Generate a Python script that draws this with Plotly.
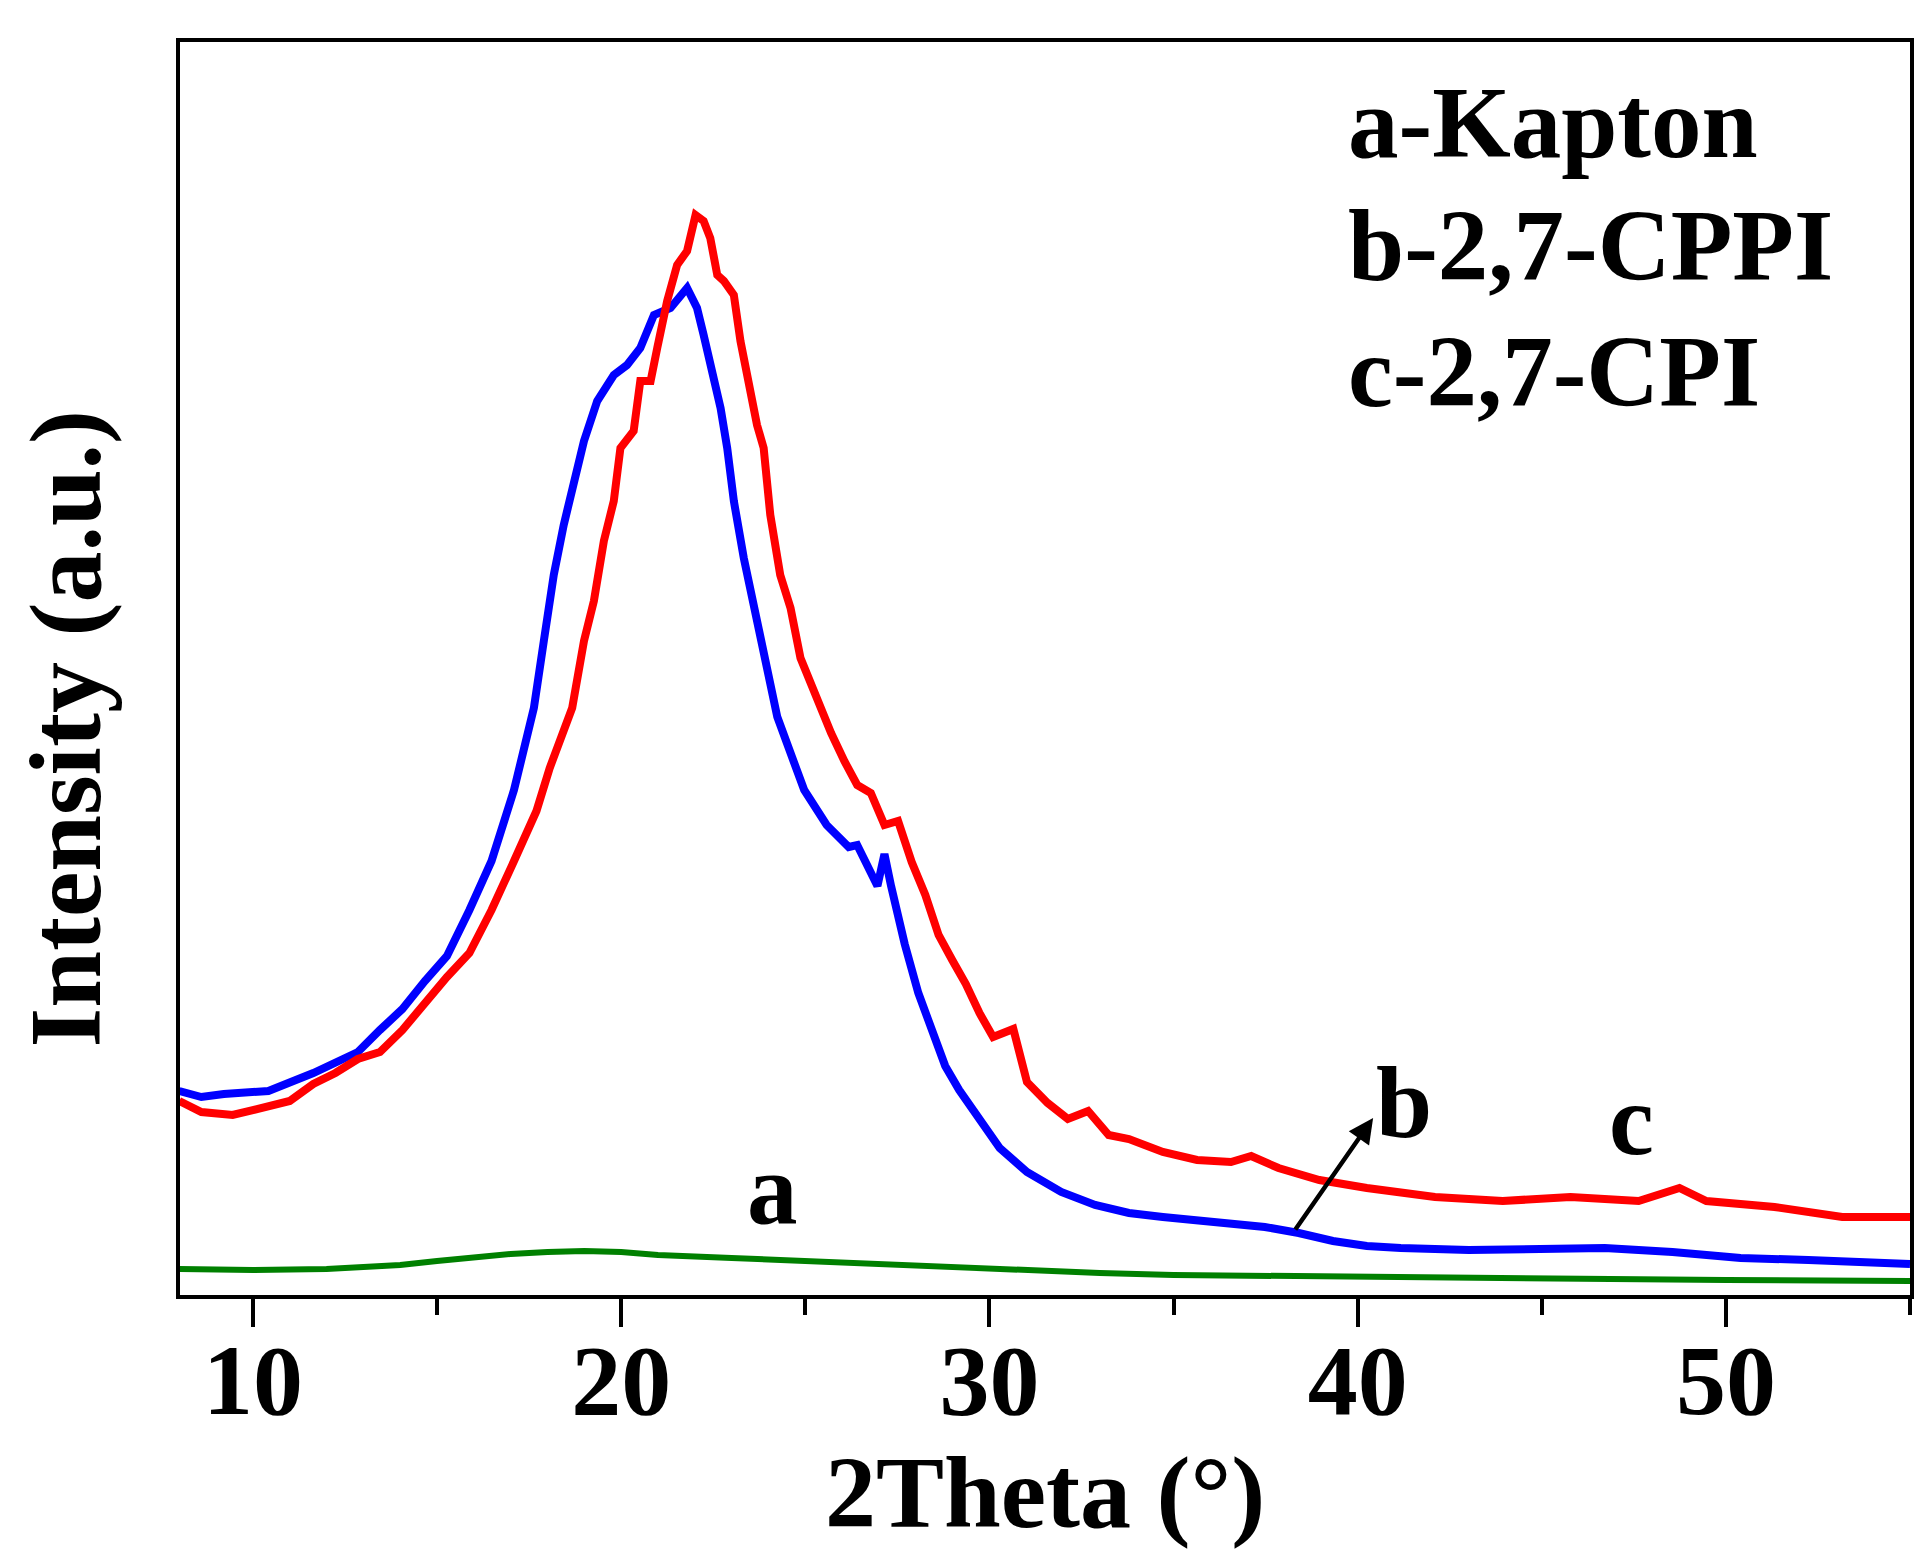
import plotly.graph_objects as go

# ---- data (2Theta in degrees, intensity in arbitrary units) ----
theta_a = [8.0, 10.0, 12.0, 14.0, 15.0, 16.0, 17.0, 18.0, 19.0, 20.0, 21.0, 23.0, 25.0,
           27.0, 30.0, 33.0, 35.0, 40.0, 45.0, 50.0, 55.0]
kapton = [26, 25, 26, 30, 34, 38, 41, 43, 44, 43, 40, 37, 34,
          31, 25, 22, 20, 18, 17, 15, 14]

theta_b = [8.0, 8.6, 9.21, 10.42, 11.64, 12.85, 13.45, 14.06, 14.67, 15.27, 15.88, 16.48,
           17.09, 17.63, 17.9, 18.17, 18.44, 18.72, 18.99, 19.35, 19.8, 20.16, 20.52, 20.89,
           21.34, 21.79, 22.06, 22.24, 22.42, 22.7, 22.88, 23.06, 23.33, 23.6, 23.87, 24.24,
           24.97, 25.58, 26.18, 26.41, 26.96, 27.15, 27.33, 27.7, 28.07, 28.44, 28.8, 29.18,
           29.73, 30.28, 31.02, 31.95, 32.87, 33.79, 34.71, 35.64, 36.56, 37.48, 38.4, 39.33,
           40.25, 41.17, 43.02, 44.86, 46.71, 48.55, 50.4, 52.24, 54.08, 55.0]
cppi = [204, 198, 201, 204, 222, 243, 265, 286, 314, 339, 385, 434,
        505, 587, 654, 720, 770, 814, 854, 894, 920, 930, 947, 980,
        987, 1007, 987, 960, 930, 887, 847, 794, 737, 687, 637, 578,
        505, 470, 448, 450, 409, 441, 409, 351, 302, 262, 229, 205,
        176, 147, 123, 103, 90, 82, 78, 74, 72, 68, 62, 54,
        49, 47, 45, 45, 47, 43, 37, 35, 33, 31]

theta_c = [8.0, 8.6, 9.45, 10.42, 11.0, 11.64, 12.24, 12.85, 13.45, 14.06, 14.67, 15.27,
           15.88, 16.48, 17.09, 17.7, 18.06, 18.43, 18.67, 18.99, 19.26, 19.53, 19.8, 19.98,
           20.34, 20.52, 20.8, 20.98, 21.25, 21.52, 21.79, 22.02, 22.24, 22.42, 22.61, 22.79,
           23.06, 23.24, 23.51, 23.69, 23.87, 24.05, 24.32, 24.6, 24.87, 25.23, 25.7, 26.06,
           26.41, 26.78, 27.15, 27.52, 27.89, 28.26, 28.62, 28.99, 29.36, 29.73, 30.1, 30.65,
           31.02, 31.58, 32.13, 32.68, 33.24, 33.79, 34.71, 35.64, 36.56, 37.11, 37.85, 38.96,
           40.25, 42.1, 43.94, 45.78, 47.63, 48.74, 49.47, 51.32, 53.16, 55.0]
cpi = [194, 183, 180, 190, 194, 211, 222, 236, 243, 265, 293, 318,
       342, 385, 434, 484, 527, 562, 587, 654, 694, 754, 794, 847,
       864, 914, 914, 947, 994, 1030, 1044, 1080, 1074, 1057, 1020, 1014,
       1000, 954, 904, 870, 847, 780, 720, 687, 637, 604, 562, 534,
       510, 502, 470, 474, 433, 400, 360, 335, 311, 282, 258, 266,
       213, 192, 176, 184, 160, 156, 143, 135, 133, 139, 127, 115,
       107, 98, 94, 98, 94, 107, 94, 88, 78, 78]

major_ticks = [10, 20, 30, 40, 50]
minor_ticks = [15, 25, 35, 45, 55]
legend_lines = ["a-Kapton", "b-2,7-CPPI", "c-2,7-CPI"]
curve_labels = ["a", "b", "c"]

FONT = "Liberation Serif, Times New Roman, serif"

fig = go.Figure()
fig.add_trace(go.Scatter(x=theta_a, y=kapton, mode="lines", name="a-Kapton",
                         line=dict(color="#008000", width=6)))
fig.add_trace(go.Scatter(x=theta_b, y=cppi, mode="lines", name="b-2,7-CPPI",
                         line=dict(color="#0000FF", width=8)))
fig.add_trace(go.Scatter(x=theta_c, y=cpi, mode="lines", name="c-2,7-CPI",
                         line=dict(color="#FF0000", width=8)))

annotations = []
# in-plot legend text (top right)
for txt, yp in zip(legend_lines, [0.935, 0.837, 0.737]):
    annotations.append(dict(text=f"<b>{txt}</b>", xref="paper", yref="paper",
                            x=0.674, y=yp, xanchor="left", yanchor="middle",
                            showarrow=False, font=dict(family=FONT, size=101, color="black")))
# curve labels
for lab, lx, ly in zip(curve_labels, [24.1, 41.25, 47.45], [106, 192, 175]):
    annotations.append(dict(text=f"<b>{lab}</b>", x=lx, y=ly, xref="x", yref="y",
                            xanchor="center", yanchor="middle", showarrow=False,
                            font=dict(family=FONT, size=101, color="black")))
# arrow
annotations.append(dict(x=40.42, y=177, ax=38.28, ay=64, xref="x", yref="y",
                        axref="x", ayref="y", text="", showarrow=True,
                        arrowhead=2, arrowsize=1.1, arrowwidth=4.5, arrowcolor="black"))
# axis titles
annotations.append(dict(text="<b>2Theta (°)</b>", xref="paper", yref="paper",
                        x=0.5, y=-0.158, xanchor="center", yanchor="middle",
                        showarrow=False, font=dict(family=FONT, size=102, color="black")))
annotations.append(dict(text="<b>Intensity (a.u.)</b>", xref="paper", yref="paper",
                        x=-0.066, y=0.452, xanchor="center", yanchor="middle",
                        textangle=-90, showarrow=False,
                        font=dict(family=FONT, size=102, color="black")))

fig.update_layout(
    width=1925, height=1562,
    margin=dict(l=172, r=23, t=34, b=275),
    paper_bgcolor="white", plot_bgcolor="white",
    showlegend=False,
    annotations=annotations,
    xaxis=dict(range=[8.02, 55.0], tickvals=major_ticks, ticktext=[str(t) for t in major_ticks],
               ticks="outside", ticklen=28, tickwidth=3.5, tickcolor="black",
               minor=dict(tickvals=minor_ticks, ticks="outside", ticklen=16, tickwidth=3.5,
                          tickcolor="black"),
               showline=True, linewidth=4, linecolor="black", mirror=True,
               showgrid=False, zeroline=False,
               tickfont=dict(family=FONT, size=100, color="black", weight="bold"),
               ticklabelstandoff=-33),
    yaxis=dict(range=[0, 1253], showticklabels=False, ticks="",
               showline=True, linewidth=4, linecolor="black", mirror=True,
               showgrid=False, zeroline=False),
)

fig.write_html("out.html")
